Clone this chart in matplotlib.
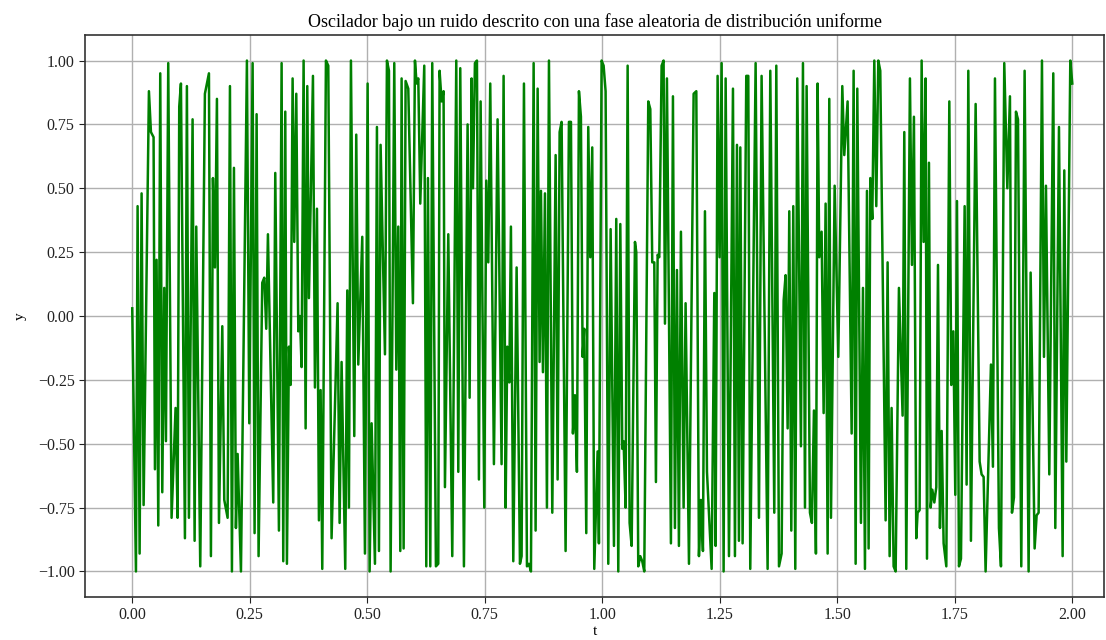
import numpy as np
import matplotlib
matplotlib.use('Agg')
from matplotlib import pyplot as plt

# puntos de giro (t, y)
t = [0.000, 0.0079, 0.0114, 0.0157, 0.0199, 0.0242, 0.0355, 0.0398, 0.0454, 0.0483,
     0.0518, 0.0554, 0.0596, 0.0639, 0.0681, 0.0717, 0.0766, 0.0837, 0.0922, 0.0965,
     0.1000, 0.1036, 0.1121, 0.1163, 0.1206, 0.1284, 0.1327, 0.1362, 0.1447, 0.1546,
     0.1632, 0.1674, 0.1717, 0.1760, 0.1802, 0.1845, 0.1916, 0.1958, 0.2029, 0.2079,
     0.2121, 0.2164, 0.2206, 0.2242, 0.2313, 0.2440, 0.2490, 0.2561, 0.2603, 0.2646,
     0.2688, 0.2766, 0.2809, 0.2851, 0.2887, 0.3000, 0.3043, 0.3121, 0.3178, 0.3213,
     0.3256, 0.3291, 0.3334, 0.3369, 0.3412, 0.3447, 0.3490, 0.3533, 0.3568, 0.3603,
     0.3646, 0.3689, 0.3724, 0.3759, 0.3845, 0.3887, 0.3930, 0.3972, 0.4008, 0.4043,
     0.4121, 0.4171, 0.4241, 0.4369, 0.4412, 0.4454, 0.4532, 0.4575, 0.4610, 0.4653,
     0.4724, 0.4766, 0.4809, 0.4894, 0.4951, 0.5008, 0.5050, 0.5093, 0.5164, 0.5206,
     0.5249, 0.5284, 0.5377, 0.5419, 0.5462, 0.5497, 0.5575, 0.5618, 0.5660, 0.5703,
     0.5731, 0.5774, 0.5816, 0.5873, 0.5972, 0.6015, 0.6050, 0.6086, 0.6128, 0.6213,
     0.6256, 0.6291, 0.6341, 0.6383, 0.6461, 0.6511, 0.6539, 0.6582, 0.6624, 0.6653,
     0.6724, 0.6809, 0.6894, 0.6937, 0.6979, 0.7057, 0.7135, 0.7178, 0.7220, 0.7249,
     0.7291, 0.7334, 0.7376, 0.7412, 0.7490, 0.7532, 0.7575, 0.7617, 0.7695, 0.7773,
     0.7858, 0.7901, 0.7944, 0.7979, 0.8022, 0.8057, 0.8107, 0.8178, 0.8249, 0.8284,
     0.8334, 0.8398, 0.8440, 0.8483, 0.8540, 0.8582, 0.8625, 0.8667, 0.8696, 0.8738,
     0.8781, 0.8823, 0.8866, 0.8937, 0.9008, 0.9050, 0.9093, 0.9135, 0.9220, 0.9291,
     0.9334, 0.9376, 0.9419, 0.9461, 0.9504, 0.9546, 0.9582, 0.9617, 0.9660, 0.9702,
     0.9745, 0.9787, 0.9830, 0.9901, 0.9929, 0.9986, 1.0029, 1.0071, 1.0128, 1.0178,
     1.0249, 1.0298, 1.0341, 1.0384, 1.0426, 1.0454, 1.0497, 1.0540, 1.0582, 1.0625,
     1.0696, 1.0724, 1.0766, 1.0809, 1.0851, 1.0894, 1.0979, 1.1022, 1.1064, 1.1107,
     1.1142, 1.1178, 1.1213, 1.1263, 1.1305, 1.1334, 1.1376, 1.1461, 1.1504, 1.1546,
     1.1589, 1.1631, 1.1674, 1.1731, 1.1773, 1.1845, 1.1944, 1.2001, 1.2057, 1.2100,
     1.2142, 1.2185, 1.2228, 1.2327, 1.2384, 1.2412, 1.2454, 1.2497, 1.2540, 1.2582,
     1.2625, 1.2696, 1.2781, 1.2823, 1.2866, 1.2908, 1.2937, 1.2986, 1.3064, 1.3107,
     1.3149, 1.3263, 1.3334, 1.3390, 1.3518, 1.3575, 1.3660, 1.3703, 1.3760, 1.3816,
     1.3859, 1.3901, 1.3944, 1.3979, 1.4022, 1.4064, 1.4107, 1.4149, 1.4227, 1.4270,
     1.4313, 1.4348, 1.4419, 1.4461, 1.4504, 1.4546, 1.4582, 1.4617, 1.4667, 1.4710,
     1.4752, 1.4795, 1.4830, 1.4866, 1.4944, 1.5022, 1.5107, 1.5149, 1.5220, 1.5306,
     1.5348, 1.5391, 1.5426, 1.5504, 1.5547, 1.5589, 1.5632, 1.5667, 1.5703, 1.5745,
     1.5788, 1.5830, 1.5873, 1.5915, 1.6029, 1.6071, 1.6114, 1.6156, 1.6199, 1.6242,
     1.6312, 1.6390, 1.6426, 1.6468, 1.6546, 1.6589, 1.6631, 1.6681, 1.6709, 1.6752,
     1.6795, 1.6837, 1.6880, 1.6909, 1.6951, 1.6987, 1.7022, 1.7065, 1.7107, 1.7143,
     1.7185, 1.7221, 1.7263, 1.7320, 1.7384, 1.7426, 1.7469, 1.7511, 1.7547, 1.7589,
     1.7632, 1.7710, 1.7752, 1.7788, 1.7844, 1.7944, 1.8029, 1.8071, 1.8114, 1.8156,
     1.8270, 1.8312, 1.8355, 1.8440, 1.8483, 1.8553, 1.8618, 1.8674, 1.8717, 1.8759,
     1.8802, 1.8845, 1.8915, 1.8986, 1.9071, 1.9114, 1.9199, 1.9242, 1.9284, 1.9355,
     1.9398, 1.9440, 1.9511, 1.9596, 1.9639, 1.9717, 1.9795, 1.9830, 1.9873, 1.9958,
     2.0000]
y = [0.03, -1.00, 0.43, -0.93, 0.48, -0.74, 0.88, 0.72, 0.70, -0.60,
     0.22, -0.82, 0.95, -0.69, 0.11, -0.49, 0.99, -0.79, -0.36, -0.79,
     0.82, 0.91, -0.87, 0.90, -0.79, 0.77, -0.88, 0.35, -0.98, 0.87,
     0.95, -0.94, 0.54, 0.19, 0.85, -0.81, -0.04, -0.72, -0.79, 0.90,
     -1.00, 0.58, -0.83, -0.54, -1.00, 1.00, -0.42, 0.99, -0.85, 0.79,
     -0.94, 0.13, 0.15, -0.05, 0.32, -0.73, 0.56, -0.84, 0.99, -0.96,
     0.80, -0.97, -0.12, -0.27, 0.93, 0.29, 0.87, -0.06, 0.00, -0.20,
     1.00, -0.44, 0.90, 0.07, 0.94, -0.28, 0.42, -0.80, -0.29, -0.99,
     1.00, 0.98, -0.87, 0.05, -0.81, -0.18, -0.99, 0.10, -0.75, 1.00,
     -0.47, 0.71, -0.19, 0.31, -0.93, 0.91, -1.00, -0.42, -0.97, 0.74,
     -0.92, 0.67, -0.15, 1.00, 0.96, -1.00, 0.99, -0.21, 0.35, -0.92,
     0.93, -0.91, 0.92, 0.89, 0.05, 1.00, 0.91, 0.93, 0.44, 0.98,
     -0.98, 0.54, -0.98, 0.99, -0.98, -0.97, 0.96, 0.84, 0.88, -0.67,
     0.32, -0.94, 1.00, -0.61, 0.97, -0.98, 0.75, -0.32, 0.93, 0.50,
     0.99, 1.00, -0.64, 0.84, -0.75, 0.53, 0.21, 0.91, -0.58, 0.77,
     -0.58, 0.94, -0.75, -0.12, -0.26, 0.35, -0.96, 0.19, -0.97, -0.94,
     0.91, -0.98, -0.97, -1.00, 0.99, -0.84, 0.89, -0.18, 0.49, -0.22,
     0.48, -0.75, 1.00, -0.77, 0.63, -0.64, 0.72, 0.76, -0.92, 0.76,
     0.76, -0.46, -0.31, -0.61, 0.88, 0.78, -0.16, -0.05, -0.85, 0.74,
     0.23, 0.66, -0.99, -0.53, -0.89, 1.00, 0.98, 0.88, -0.97, 0.34,
     -0.90, 0.38, -1.00, 0.36, -0.52, -0.49, -0.75, 0.98, -0.81, -0.90,
     0.29, 0.25, -0.98, -0.94, -0.96, -1.00, 0.84, 0.81, 0.21, 0.21,
     -0.65, 0.24, 0.23, 0.98, 1.00, -0.03, 0.93, -0.89, 0.86, -0.83,
     0.18, -0.90, 0.33, -0.75, 0.05, -0.97, 0.87, 0.88, -0.94, -0.72,
     -0.92, 0.41, -0.61, -0.99, 0.09, -0.90, 0.94, 0.23, 0.99, -1.00,
     0.93, -0.94, 0.89, -0.94, 0.67, -0.88, 0.66, -0.89, 0.94, 0.94,
     -0.99, 0.99, -0.79, 0.94, -0.99, 0.96, -0.77, 0.98, -0.98, -0.93,
     0.06, 0.16, -0.44, 0.41, -0.84, 0.43, -0.99, 0.93, -0.51, 0.99,
     -0.75, 0.90, -0.77, -0.81, -0.37, -0.93, 0.91, 0.23, 0.33, -0.38,
     0.44, -0.93, 0.85, -0.79, 0.51, -0.16, 0.90, 0.63, 0.84, -0.46,
     0.96, -0.97, 0.89, -0.81, 0.11, -0.99, 0.49, -0.91, 0.54, 0.38,
     1.00, 0.43, 1.00, 0.96, -0.80, 0.21, -0.94, -0.36, -0.98, -1.00,
     0.11, -0.39, 0.72, -0.99, 0.93, 0.20, 0.78, -0.87, -0.77, -0.76,
     1.00, 0.29, 0.93, -0.95, 0.60, -0.75, -0.68, -0.73, -0.67, 0.20,
     -0.83, -0.45, -0.89, -0.98, 0.84, -0.27, -0.06, -0.70, 0.45, -0.98,
     -0.95, 0.43, -0.66, 0.96, -0.88, 0.83, -0.57, -0.62, -0.63, -1.00,
     -0.19, -0.59, 0.93, -0.83, -0.98, 0.99, 0.50, 0.86, -0.77, -0.71,
     0.80, 0.77, -0.98, 0.96, -1.00, 0.17, -0.91, -0.78, -0.77, 1.00,
     -0.16, 0.51, -0.62, 0.95, -0.83, 0.74, -0.94, 0.57, -0.57, 1.00,
     0.91]

xticks = [0.00, 0.25, 0.50, 0.75, 1.00, 1.25, 1.50, 1.75, 2.00]
yticks = [-1.00, -0.75, -0.50, -0.25, 0.00, 0.25, 0.50, 0.75, 1.00]

plt.rcParams['font.family'] = ['Liberation Serif', 'DejaVu Serif']
plt.rcParams['font.size'] = 11.5

fig = plt.figure(figsize=(11.06, 6.40), dpi=100)
ax = fig.add_axes([85 / 1106, 43 / 640, 1019 / 1106, 562 / 640])
ax.plot(t, y, color='green', linewidth=1.8)
ax.set_xlim(-0.1005, 2.0675)
ax.set_ylim(-1.1, 1.1)
ax.set_xticks(xticks)
ax.set_yticks(yticks)
ax.set_xticklabels(['%.2f' % v for v in xticks])
ax.set_yticklabels([('%.2f' % v).replace('-', '\u2212') for v in yticks])
ax.grid(True, color='#b0b0b0', linewidth=1.0)
ax.set_axisbelow(True)
for s in ax.spines.values():
    s.set_color('#333333')
    s.set_linewidth(1.2)
ax.tick_params(direction='out', length=4, colors='#222222', labelsize=11.5)
ax.set_title('Oscilador bajo un ruido descrito con una fase aleatoria de distribución uniforme',
             fontsize=13, pad=6)
ax.set_xlabel('t', fontsize=11, labelpad=1)
ax.set_ylabel('y', fontsize=11, labelpad=8)
fig.savefig('out.png', dpi=100)
